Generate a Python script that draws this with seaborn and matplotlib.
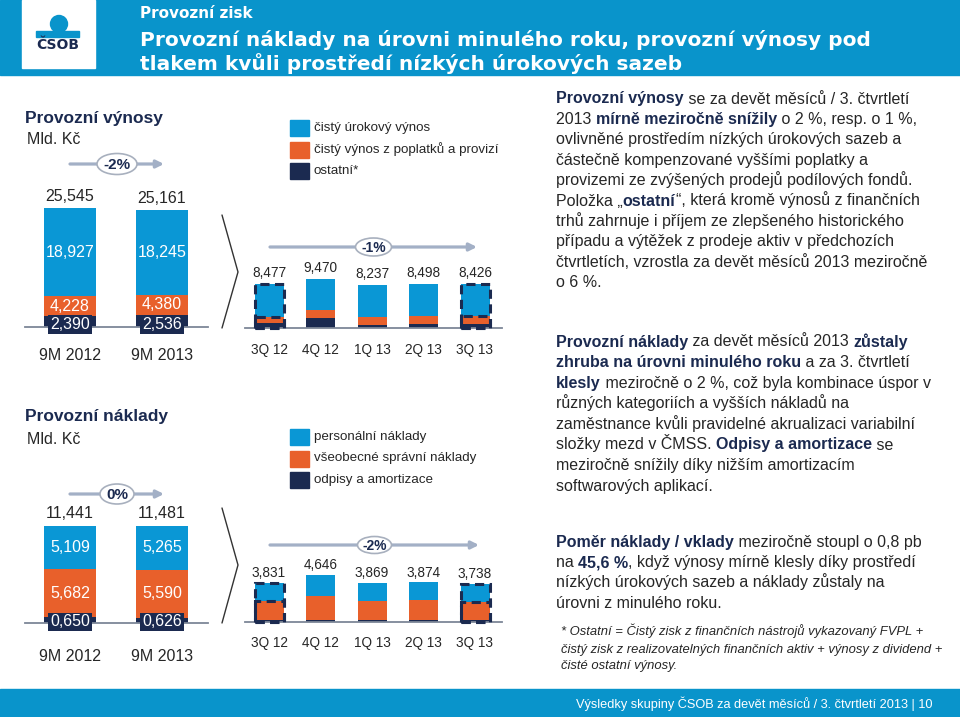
import numpy as np
import pandas as pd
import seaborn as sns
import matplotlib.pyplot as plt
from matplotlib.patches import Rectangle, Ellipse, Circle
from matplotlib.font_manager import FontProperties

# ---- data (Mld. Kč) ----
ytd_periods = ["9M 2012", "9M 2013"]
rev_nii_ytd = [18.927, 18.245]   # čistý úrokový výnos
rev_fee_ytd = [4.228, 4.380]     # poplatky a provize
rev_oth_ytd = [2.390, 2.536]     # ostatní
rev_tot_ytd = [25.545, 25.161]

cost_staff_ytd = [5.109, 5.265]
cost_admin_ytd = [5.682, 5.590]
cost_depr_ytd = [0.650, 0.626]
cost_tot_ytd = [11.441, 11.481]

qtr_periods = ["3Q 12", "4Q 12", "1Q 13", "2Q 13", "3Q 13"]
rev_nii_q = [6.35, 6.05, 6.20, 6.20, 6.08]
rev_fee_q = [1.20, 1.40, 1.42, 1.45, 1.48]
rev_oth_q = [0.927, 2.02, 0.617, 0.848, 0.866]
rev_tot_q = [8.477, 9.470, 8.237, 8.498, 8.426]

cost_staff_q = [1.80, 2.06, 1.84, 1.70, 1.76]
cost_admin_q = [1.83, 2.35, 1.81, 1.96, 1.77]
cost_depr_q = [0.20, 0.236, 0.219, 0.214, 0.208]
cost_tot_q = [3.831, 4.646, 3.869, 3.874, 3.738]

rev_legend = ["čistý úrokový výnos", "čistý výnos z poplatků a provizí", "ostatní*"]
cost_legend = ["personální náklady", "všeobecné správní náklady", "odpisy a amortizace"]

para_revenue = [
    "**Provozní výnosy** se za devět měsíců / 3. čtvrtletí",
    "2013 **mírně meziročně snížily** o 2 %, resp. o 1 %,",
    "ovlivněné prostředím nízkých úrokových sazeb a",
    "částečně kompenzované vyššími poplatky a",
    "provizemi ze zvýšených prodejů podílových fondů.",
    "Položka „**ostatní**“, která kromě výnosů z finančních",
    "trhů zahrnuje i příjem ze zlepšeného historického",
    "případu a výtěžek z prodeje aktiv v předchozích",
    "čtvrtletích, vzrostla za devět měsíců 2013 meziročně",
    "o 6 %.",
]
para_costs = [
    "**Provozní náklady** za devět měsíců 2013 **zůstaly**",
    "**zhruba na úrovni minulého roku** a za 3. čtvrtletí",
    "**klesly** meziročně o 2 %, což byla kombinace úspor v",
    "různých kategoriích a vyšších nákladů na",
    "zaměstnance kvůli pravidelné akrualizaci variabilní",
    "složky mezd v ČMSS. **Odpisy a amortizace** se",
    "meziročně snížily díky nižším amortizacím",
    "softwarových aplikací.",
]
para_ratio = [
    "**Poměr náklady / vklady** meziročně stoupl o 0,8 pb",
    "na **45,6 %**, když výnosy mírně klesly díky prostředí",
    "nízkých úrokových sazeb a náklady zůstaly na",
    "úrovni z minulého roku.",
]
footnote = [
    "* Ostatní = Čistý zisk z finančních nástrojů vykazovaný FVPL +",
    "čistý zisk z realizovatelných finančních aktiv + výnosy z dividend +",
    "čisté ostatní výnosy.",
]

BLUE = "#0A97D5"
ORANGE = "#E8602B"
NAVY = "#1B2A50"
HEADER = "#0994CB"
GREY = "#A3B0C6"
TXT = "#262626"

sns.set_style("white")
plt.rcParams["font.family"] = ["Liberation Sans", "DejaVu Sans"]

W, H = 960, 717
fig = plt.figure(figsize=(9.6, 7.17), dpi=100)
bg = fig.add_axes([0, 0, 1, 1])
bg.set_xlim(0, W)
bg.set_ylim(H, 0)
bg.axis("off")
renderer = fig.canvas.get_renderer()


def fmt(v):
    return f"{v:.3f}".replace(".", ",")


def chart(left, right, base, top, x0, step, scale):
    ax = fig.add_axes([left / W, 1 - base / H, (right - left) / W, (base - top) / H])
    ax.patch.set_alpha(0)
    ax._lims = ((-(x0 - left) / step, (right - x0) / step), (0, (base - top) / scale))
    return ax


def stacked(ax, cats, upper, middle, lower, width, fs, pad):
    df = pd.DataFrame({"period": cats,
                       "l1": np.add(np.add(upper, middle), lower),
                       "l2": np.add(middle, lower),
                       "l3": lower})
    for col, colr in [("l1", BLUE), ("l2", ORANGE), ("l3", NAVY)]:
        sns.barplot(data=df, x="period", y=col, color=colr, width=width,
                    saturation=1, errorbar=None, linewidth=0, ax=ax)
    ax.set_xlim(*ax._lims[0])
    ax.set_ylim(*ax._lims[1])
    ax.set_xlabel("")
    ax.set_ylabel("")
    ax.set_yticks([])
    sns.despine(ax=ax, left=True)
    ax.spines["bottom"].set_color("#7D8797")
    ax.spines["bottom"].set_linewidth(1.3)
    ax.tick_params(axis="x", length=0, pad=pad, labelsize=fs, labelcolor=TXT)


def totals(ax, totals_, fs, off):
    for i, v in enumerate(totals_):
        ax.annotate(fmt(v), (i, v), xytext=(0, off), textcoords="offset points",
                    ha="center", va="center", fontsize=fs, color=TXT)


def change(x0, x1, y, label, ew, eh, fs):
    bg.annotate("", xy=(x1, y), xytext=(x0, y),
                arrowprops=dict(arrowstyle="-|>", color=GREY, lw=2.3, mutation_scale=11,
                                shrinkA=0, shrinkB=0))
    cx = (x0 + x1) / 2
    bg.add_patch(Ellipse((cx, y), ew, eh, facecolor="white", edgecolor="#A8B0BE", lw=1.2, zorder=3))
    bg.text(cx, y + 1, label, ha="center", va="center", fontsize=fs, fontweight="bold",
            color=NAVY, zorder=4)


def dashed_box(ax, i, total, lower_part, width):
    for h in (total, lower_part):
        ax.add_patch(Rectangle((i - width / 2, 0), width, h, fill=False, ec=NAVY, lw=2.2,
                               ls=(0, (3, 1.8)), clip_on=False, zorder=5))


def legend(x, y0, labels, fs):
    for k, (lab, colr) in enumerate(zip(labels, [BLUE, ORANGE, NAVY])):
        y = y0 + k * 21.5
        bg.add_patch(Rectangle((x, y - 8), 19, 16, color=colr))
        bg.text(x + 24, y, lab, va="center", ha="left", fontsize=fs, color=TXT)


def rich(x, y, line, size, italic=False):
    parts = line.split("**")
    for k, seg in enumerate(parts):
        if not seg:
            continue
        bold = k % 2 == 1
        fp = FontProperties(family=["Liberation Sans", "DejaVu Sans"], size=size,
                            weight="bold" if bold else "normal",
                            style="italic" if italic else "normal")
        bg.text(x, y, seg, fontproperties=fp, ha="left", va="baseline",
                color=NAVY if bold else TXT)
        w1 = renderer.get_text_width_height_descent("x" + seg + "x", fp, ismath=False)[0]
        w0 = renderer.get_text_width_height_descent("xx", fp, ismath=False)[0]
        x += w1 - w0


# ---- header ----
bg.add_patch(Rectangle((0, 0), W, 75, color=HEADER))
bg.add_patch(Rectangle((22, 0), 73, 68, color="white"))
bg.add_patch(Circle((59, 24), 8.5, color=HEADER))
bg.add_patch(Rectangle((36, 31), 43, 6, color=HEADER))
bg.text(58, 45, "ČSOB", ha="center", va="center", fontsize=10, fontweight="bold",
        color=NAVY, family="DejaVu Sans")
bg.text(140, 13, "Provozní zisk", ha="left", va="center", fontsize=11,
        fontweight="bold", color="white", family="DejaVu Sans")
bg.text(140, 40, "Provozní náklady na úrovni minulého roku, provozní výnosy pod",
        ha="left", va="center", fontsize=14.5, fontweight="bold", color="white",
        family="DejaVu Sans")
bg.text(140, 64, "tlakem kvůli prostředí nízkých úrokových sazeb",
        ha="left", va="center", fontsize=14.5, fontweight="bold", color="white",
        family="DejaVu Sans")

# ---- footer ----
bg.add_patch(Rectangle((0, 689), W, 28, color=HEADER))
bg.text(932, 704, "Výsledky skupiny ČSOB za devět měsíců / 3. čtvrtletí 2013 | 10",
        ha="right", va="center", fontsize=9.2, color="white")

# ---- left titles ----
bg.text(25, 118, "Provozní výnosy", fontsize=12.5, fontweight="bold", color=NAVY, va="center")
bg.text(27, 140, "Mld. Kč", fontsize=11.5, color=TXT, va="center")
bg.text(25, 417, "Provozní náklady", fontsize=12.5, fontweight="bold", color=NAVY, va="center")
bg.text(27, 440, "Mld. Kč", fontsize=11.5, color=TXT, va="center")

# ---- YTD revenue ----
w_ytd = 52 / 92
ax1 = chart(25, 208, 327, 150, 70, 92, 4.66)
stacked(ax1, ytd_periods, rev_nii_ytd, rev_fee_ytd, rev_oth_ytd, w_ytd, 11.5, 15)
totals(ax1, rev_tot_ytd, 11.5, 8)
for i in range(2):
    lo = rev_oth_ytd[i]
    ax1.text(i, lo + rev_fee_ytd[i] + rev_nii_ytd[i] / 2, fmt(rev_nii_ytd[i]), ha="center",
             va="center", color="white", fontsize=11.5)
    ax1.text(i, lo + rev_fee_ytd[i] / 2, fmt(rev_fee_ytd[i]), ha="center", va="center",
             color="white", fontsize=11.5)
    ax1.text(i, 0.6, fmt(lo), ha="center", va="center", color="white", fontsize=11.5,
             bbox=dict(boxstyle="square,pad=0.12", fc=NAVY, ec="none"))
change(70, 164, 164, "-2%", 40, 21, 11)

# ---- YTD costs ----
ax3 = chart(25, 208, 623, 470, 70, 92, 8.48)
stacked(ax3, ytd_periods, cost_staff_ytd, cost_admin_ytd, cost_depr_ytd, w_ytd, 11.5, 19)
totals(ax3, cost_tot_ytd, 11.5, 9)
for i in range(2):
    lo = cost_depr_ytd[i]
    ax3.text(i, lo + cost_admin_ytd[i] + cost_staff_ytd[i] / 2, fmt(cost_staff_ytd[i]),
             ha="center", va="center", color="white", fontsize=11.5)
    ax3.text(i, lo + cost_admin_ytd[i] / 2, fmt(cost_admin_ytd[i]), ha="center", va="center",
             color="white", fontsize=11.5)
    ax3.text(i, 0.12, fmt(lo), ha="center", va="center", color="white", fontsize=11.5,
             bbox=dict(boxstyle="square,pad=0.12", fc=NAVY, ec="none"))
change(70, 164, 494, "0%", 34, 20, 11)

# ---- chevrons ----
bg.plot([222, 238, 222], [215, 272, 328], color="#333333", lw=1)
bg.plot([222, 238, 222], [508, 565, 623], color="#333333", lw=1)

# ---- quarterly revenue ----
w_q = 29 / 51.5
ax2 = chart(245, 502, 328, 180, 269, 51.5, 5.19)
stacked(ax2, qtr_periods, rev_nii_q, rev_fee_q, rev_oth_q, w_q, 9.8, 11)
totals(ax2, rev_tot_q, 9.8, 8)
for i in (0, 4):
    dashed_box(ax2, i, rev_tot_q[i], rev_fee_q[i] + rev_oth_q[i], w_q)
change(270, 477, 247, "-1%", 36, 18, 10)
legend(290, 128, rev_legend, 9.6)

# ---- quarterly costs ----
ax4 = chart(245, 502, 622, 480, 269, 51.5, 10.2)
stacked(ax4, qtr_periods, cost_staff_q, cost_admin_q, cost_depr_q, w_q, 9.8, 10)
totals(ax4, cost_tot_q, 9.8, 7)
for i in (0, 4):
    dashed_box(ax4, i, cost_tot_q[i], cost_admin_q[i] + cost_depr_q[i], w_q)
change(270, 479, 545, "-2%", 34, 17, 10)
legend(290, 437, cost_legend, 9.6)

# ---- commentary ----
for k, line in enumerate(para_revenue):
    rich(556, 98 + 20.4 * k + 5.5, line, 11.5)
for k, line in enumerate(para_costs):
    rich(556, 341 + 20.6 * k + 5.5, line, 11.5)
for k, line in enumerate(para_ratio):
    rich(556, 541 + 20.5 * k + 5.5, line, 11.5)
for k, line in enumerate(footnote):
    rich(561, 631 + 17 * k + 4.5, line, 9.4, italic=True)

fig.savefig("out.png", dpi=100)
